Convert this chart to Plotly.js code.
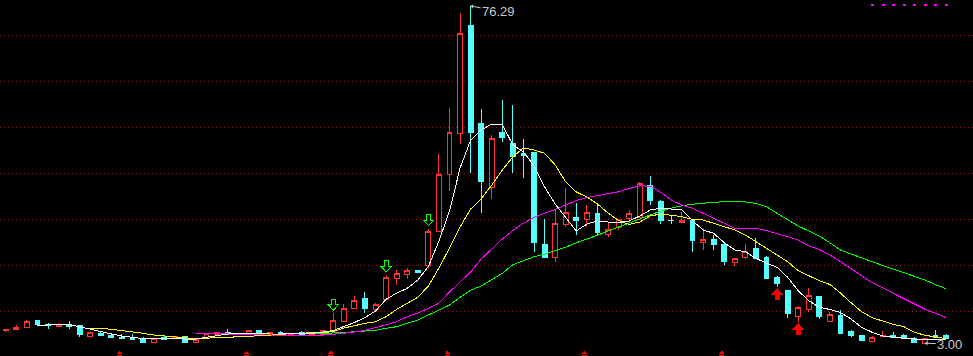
<!DOCTYPE html>
<html>
<head>
<meta charset="utf-8">
<script src="https://cdn.plot.ly/plotly-3.0.1.min.js"></script>
<style>
html,body{margin:0;padding:0;background:#000;overflow:hidden}
#chart{width:973px;height:356px}
#chart .scatterlayer path, #chart .boxlayer path, #chart .shapelayer path{shape-rendering:crispEdges}
</style>
</head>
<body>
<div id="chart"></div>
<script>
// ---- data ----
const openP = [5.80,5.93,6.37,7.83,7.17,6.59,7.17,6.74,4.41,5.15,
 4.63,4.20,4.28,3.98,3.11,4.28,3.98,4.41,3.11,4.28,
 4.93,5.37,5.00,4.85,5.87,5.00,5.22,4.93,5.22,5.00,
 4.93,5.87,7.76,10.50,12.61,10.37,12.54,17.17,17.89,18.76,
 20.00,27.24,39.72,48.63,72.02,50.87,36.80,48.91,46.37,44.28,
 44.41,24.35,21.59,28.85,30.37,30.00,31.09,26.67,28.11,30.07,
 30.28,37.39,33.91,29.72,29.28,29.78,24.93,25.65,24.35,20.50,
 21.59,23.63,21.59,17.24,14.41,8.76,10.37,13.11,7.67,9.13,
 5.50,4.78,3.33,4.35,4.57,4.63,3.98,3.00,4.57,4.57];
const highP = [5.96,6.96,8.04,8.04,7.46,7.39,7.76,6.96,5.33,5.65,
 5.00,4.93,5.00,4.28,4.20,4.57,4.63,4.63,3.98,5.20,
 5.50,6.02,5.28,5.87,5.87,5.37,5.65,5.15,5.65,5.30,
 5.87,9.50,11.52,13.26,14.13,11.80,17.83,18.91,19.28,18.91,
 27.89,44.13,54.07,74.70,76.29,53.91,48.33,55.87,54.78,47.33,
 44.41,29.93,31.96,36.67,33.48,33.11,33.04,29.07,29.93,31.96,
 37.98,39.35,34.13,30.87,31.59,29.98,27.98,26.52,25.07,21.46,
 24.57,25.80,21.96,17.67,14.41,11.09,15.07,13.33,9.85,10.22,
 5.87,4.78,4.57,5.65,5.50,5.00,4.41,4.07,5.87,5.00];
const lowP = [5.50,5.93,6.37,7.07,6.15,6.59,6.15,4.41,4.41,4.63,
 4.20,3.91,3.76,3.26,3.11,3.85,3.91,3.26,3.11,4.24,
 4.85,4.93,4.72,4.85,4.85,4.93,4.93,4.85,4.85,4.93,
 4.93,5.65,7.76,10.50,9.63,10.37,12.54,15.65,17.02,18.41,
 19.28,27.24,36.15,46.24,40.07,31.24,34.41,46.80,40.07,38.98,
 22.89,21.59,20.72,28.20,26.52,28.20,26.52,26.02,27.61,29.35,
 30.22,33.11,28.85,28.91,29.07,22.89,23.26,23.26,20.00,19.85,
 21.24,21.24,17.11,15.28,8.54,7.67,9.85,8.20,7.67,4.93,
 4.28,3.48,3.33,4.35,4.20,4.07,3.05,3.00,4.07,4.07];
const closeP = [5.93,6.46,7.76,7.17,6.89,7.17,6.59,4.85,5.22,4.63,
 4.20,4.07,3.85,3.26,4.07,3.85,4.41,3.26,3.85,5.15,
 5.43,4.93,4.85,5.87,4.85,5.22,5.07,5.07,5.00,5.22,
 5.87,7.83,10.65,12.39,10.50,11.52,17.39,18.26,18.76,18.41,
 27.24,39.78,48.70,70.37,48.70,38.11,47.54,47.67,43.54,43.85,
 24.85,21.59,29.07,31.46,29.63,31.46,27.02,27.76,29.93,31.30,
 37.76,33.98,29.78,29.63,29.78,25.28,25.59,24.41,20.72,21.46,
 22.89,21.46,17.11,15.93,9.35,10.72,13.41,8.76,9.28,5.15,
 4.57,3.48,4.20,4.57,4.28,4.07,3.11,4.07,4.20,4.07];

const ma5 = [null,null,null,6.74,7.02,7.11,7.02,6.59,6.02,5.50,
 5.00,4.57,4.28,3.98,3.91,3.98,3.98,3.91,3.91,4.28,
 4.72,5.00,5.07,5.00,5.00,5.00,5.00,5.07,5.15,5.15,
 5.43,5.76,6.63,7.50,8.59,10.00,12.54,13.91,14.93,16.74,
 19.67,25.22,31.74,41.09,47.17,49.35,50.65,50.50,46.09,44.57,
 41.52,36.96,33.26,30.22,27.39,28.91,29.57,29.35,29.24,29.57,
 30.65,31.96,32.33,32.17,31.96,29.63,27.61,26.89,24.85,23.26,
 22.89,21.46,20.37,19.50,17.33,14.41,12.24,10.80,10.33,9.67,
 8.26,6.46,5.37,4.57,4.28,4.07,3.91,3.85,3.76,3.70];
const ma10 = [null,null,null,null,null,null,null,null,6.24,6.24,
 6.02,5.76,5.50,5.15,4.78,4.57,4.35,4.13,3.96,4.09,
 4.24,4.30,4.39,4.50,4.61,4.74,4.89,5.11,5.15,5.26,
 5.33,5.50,6.30,6.80,7.33,7.67,8.76,10.37,11.67,12.98,
 15.43,19.35,23.70,28.26,32.17,34.35,37.39,40.65,43.54,45.43,
 45.00,44.28,41.74,38.04,35.87,34.78,33.26,31.30,29.67,28.80,
 29.35,30.65,31.09,30.87,30.50,29.93,29.78,29.07,28.33,27.61,
 26.52,25.07,23.63,22.17,20.72,18.76,17.67,16.59,15.76,13.91,
 11.80,9.85,8.54,7.76,7.11,6.59,5.37,4.72,4.35,3.98];
const ma20 = [null,null,null,null,null,null,null,null,null,null,
 null,null,null,null,null,null,null,null,5.15,5.15,
 5.11,5.00,4.93,4.85,4.78,4.67,4.57,4.57,4.57,4.57,
 4.72,4.89,5.15,5.43,5.80,6.37,7.02,7.67,8.76,9.57,
 10.59,11.67,14.13,16.30,18.48,21.30,23.48,25.65,27.50,29.09,
 30.33,31.30,32.07,33.04,34.02,34.67,35.04,35.48,35.93,36.63,
 37.22,37.13,35.80,34.09,33.04,32.33,31.24,30.15,28.91,27.98,
 27.98,27.98,27.46,26.89,26.15,25.43,24.13,23.41,22.17,20.72,
 19.24,17.72,16.15,15.00,13.85,12.67,11.52,10.37,9.50,8.54];
const ma30 = [null,null,null,null,null,null,null,null,null,null,
 null,null,null,null,null,null,null,null,null,null,
 null,null,null,null,null,null,null,null,5.15,5.15,
 5.22,5.22,5.33,5.50,5.72,5.80,6.24,6.59,7.33,8.04,
 9.13,10.22,11.30,12.98,14.50,15.43,16.74,18.20,20.07,20.98,
 21.80,22.39,23.11,23.87,24.83,25.61,26.46,27.39,28.26,29.09,
 30.04,30.98,31.74,32.35,32.89,33.20,33.48,33.63,33.76,33.76,
 33.70,33.41,32.67,31.24,29.78,28.48,27.39,26.30,24.85,23.26,
 22.39,21.52,20.65,19.89,19.13,18.37,17.61,16.74,15.72,14.85];

// signal markers (candle indices)
const buySignals = [31, 36, 40];     // green hollow down arrows above the candle
const sellSignals = [73, 75];        // red solid up arrows below the candle
const eventMarks = [11, 23, 31, 42, 55, 68]; // small red marks on the bottom edge

// ---- chart ----
const idx = openP.map((_, i) => i);
const RED = '#ff3232', CYAN = '#54ffff';

const traces = [
  {type:'candlestick', x:idx, open:openP, high:highP, low:lowP, close:closeP,
   increasing:{line:{color:RED,width:1}, fillcolor:'#000000'},
   decreasing:{line:{color:CYAN,width:1}, fillcolor:CYAN},
   whiskerwidth:0, hoverinfo:'skip', showlegend:false},
  {type:'scatter', mode:'lines', x:idx, y:ma30, line:{color:'#00ff00',width:1}, hoverinfo:'skip'},
  {type:'scatter', mode:'lines', x:idx, y:ma20, line:{color:'#ff00ff',width:1}, hoverinfo:'skip'},
  {type:'scatter', mode:'lines', x:idx, y:ma10, line:{color:'#ffff00',width:1}, hoverinfo:'skip'},
  {type:'scatter', mode:'lines', x:idx, y:ma5, line:{color:'#ffffff',width:1}, hoverinfo:'skip'}
];

const shapes = [];
buySignals.forEach(i => shapes.push({
  type:'path', xref:'x', yref:'y', xsizemode:'pixel', ysizemode:'pixel',
  xanchor:i, yanchor:highP[i],
  path:'M0,3 L-5,8.5 L-2,8.5 L-2,14 L2,14 L2,8.5 L5,8.5 Z',
  line:{color:'#00ff00',width:1}, fillcolor:'#000000'
}));
sellSignals.forEach(i => shapes.push({
  type:'path', xref:'x', yref:'y', xsizemode:'pixel', ysizemode:'pixel',
  xanchor:i, yanchor:lowP[i],
  path:'M0,-2 L-5,-7.5 L-2,-7.5 L-2,-13 L2,-13 L2,-7.5 L5,-7.5 Z',
  line:{color:'#ff0000',width:1}, fillcolor:'#ff0000'
}));
eventMarks.forEach(i => shapes.push({
  type:'path', xref:'x', yref:'paper', xsizemode:'pixel', ysizemode:'pixel',
  xanchor:i - 0.22, yanchor:0,
  path:'M-2.5,0 L2.5,0 L2.5,1.5 L-2.5,1.5 Z M-2.5,2.5 L2.5,2.5 L0,5.5 Z',
  line:{color:'#ff0000',width:0}, fillcolor:'#ff0000'
}));
shapes.push({type:'line', xref:'paper', yref:'paper',
  x0:871/973, x1:949/973, y0:1-5/356, y1:1-5/356,
  line:{color:'#ff00ff', width:2, dash:'3px,7.57px'}});

const hiIdx = highP.indexOf(Math.max(...highP));
const loIdx = lowP.indexOf(Math.min(...lowP));
const labelFont = {family:'Liberation Sans, Arial, sans-serif', size:13, color:'#c8c8c8'};
const annotations = [
  {x:hiIdx, y:highP[hiIdx], text:highP[hiIdx].toFixed(2), showarrow:true, ax:28, ay:5,
   arrowcolor:'#c8c8c8', arrowwidth:1, arrowhead:1, arrowsize:0.8, standoff:0, font:labelFont},
  {x:loIdx, y:lowP[loIdx], text:lowP[loIdx].toFixed(2), showarrow:true, ax:25, ay:1,
   arrowcolor:'#c8c8c8', arrowwidth:1, arrowhead:1, arrowsize:0.8, standoff:0, font:labelFont}
];

const layout = {
  width:973, height:356, margin:{l:0,r:0,t:0,b:0,pad:0},
  paper_bgcolor:'#000000', plot_bgcolor:'#000000', showlegend:false,
  boxgap:0.34,
  xaxis:{range:[-0.544, 91.544], showgrid:false, zeroline:false, showticklabels:false,
         ticks:'', showline:false, rangeslider:{visible:false}, fixedrange:true},
  yaxis:{range:[0.217, 77.61], tick0:0, dtick:10, showgrid:true, gridcolor:'#8c1414',
         griddash:'1px,3px', gridwidth:1, zeroline:false, showticklabels:false, ticks:'',
         showline:false, fixedrange:true},
  shapes:shapes, annotations:annotations
};

Plotly.newPlot('chart', traces, layout, {staticPlot:true, displayModeBar:false});
</script>
</body>
</html>
